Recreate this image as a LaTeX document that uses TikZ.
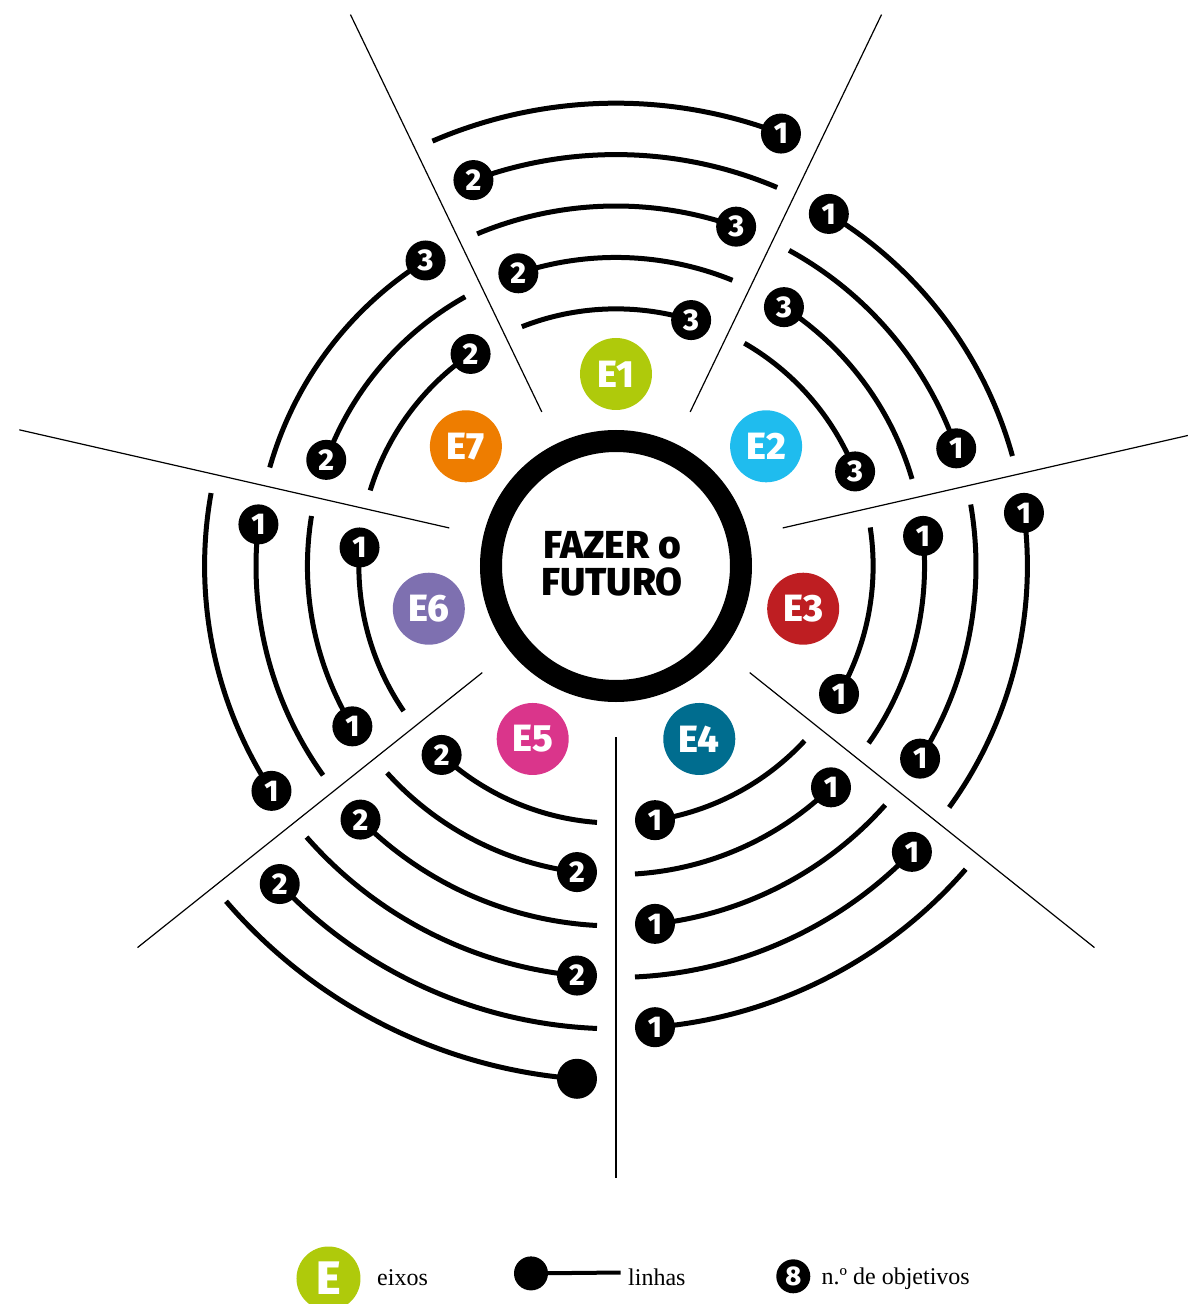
\documentclass[tikz,border=0pt]{standalone}
\usepackage{fontspec}
\newfontfamily\eixofont{Fira Sans}[BoldFont={Fira Sans ExtraBold}]
\newfontfamily\legendafont{Liberation Serif}

\definecolor{eixoa}{HTML}{AFCA0B}
\definecolor{eixob}{HTML}{1FBCEE}
\definecolor{eixoc}{HTML}{BE1E22}
\definecolor{eixod}{HTML}{006D8F}
\definecolor{eixoe}{HTML}{DA358B}
\definecolor{eixof}{HTML}{7E70B0}
\definecolor{eixog}{HTML}{EE7D00}

\tikzset{
    numdot/.style={circle,fill=black,inner sep=0pt,minimum size=40pt,text=white,
        font=\eixofont\bfseries\fontsize{30}{30}\selectfont},
    eixo/.style={circle,inner sep=0pt,minimum size=72pt,text=white,
        font=\eixofont\bfseries\fontsize{38}{38}\selectfont},
    linha/.style={line width=5pt},
    divisor/.style={line width=1.2pt},
    legenda/.style={anchor=base west,inner sep=0pt,
        font=\legendafont\fontsize{24}{24}\selectfont}
}

\begin{document}
\begin{tikzpicture}[x=1pt,y=1pt]
    \useasboundingbox (-616,-738) rectangle (572,566);
    \clip (-616,-738) rectangle (572,566);

    % central ring
    \draw[line width=22pt] (0,0) circle[radius=125];
    \node[align=center,inner sep=0pt,font=\eixofont\bfseries\fontsize{39}{37}\selectfont]
        (centro) at (-4,2) {FAZER o\\FUTURO};

    \pgfmathsetmacro{\meio}{180/7}
    \foreach \s/\cor/\labs in {1/eixoa/{3,2,3,2,1}, 2/eixob/{3,3,1,1}, 3/eixoc/{1,1,1,1},
            4/eixod/{1,1,1,1,1}, 5/eixoe/{2,2,2,2,2,{}}, 6/eixof/{1,1,1,1}, 7/eixog/{2,2,3}} {
        \pgfmathsetmacro{\ang}{90-(\s-1)*360/7}
        \pgfmathsetmacro{\dang}{\ang+\meio}

        % divider
        \draw[divisor] (\dang:171) -- (\dang:612);

        % axis disc
        \node[eixo,fill=\cor] (e\s) at (\ang:192) {E\s};

        % lines with their dots
        \foreach \lab [count=\nl] in \labs {
            \pgfmathtruncatemacro{\kk}{\nl+4}
            \pgfmathsetmacro{\rad}{\kk*360/7}
            \pgfmathsetmacro{\sg}{mod(\kk,2)==1 ? -1 : 1}
            \pgfmathsetmacro{\ad}{\ang+\sg*(\meio-asin(39/\rad))}
            \pgfmathsetmacro{\ab}{\ang-\sg*(\meio-asin(19/\rad))}
            \draw[linha] (\ab:\rad) arc[start angle=\ab,end angle=\ad,radius=\rad];
            \node[numdot] (d\s-\kk) at (\ad:\rad) {\lab};
        }
    }

    % legend
    \node[circle,fill=eixoa,inner sep=0pt,minimum size=64pt,text=white,
        font=\eixofont\bfseries\fontsize{47}{47}\selectfont] (legE) at (-287.5,-712.5) {E};
    \node[legenda] (legEtxt) at (-239,-719) {eixos};
    \node[circle,fill=black,inner sep=0pt,minimum size=34pt] (legdot) at (-85,-707.4) {};
    \coordinate (legfim) at (4.7,-706.5);
    \draw[line width=4pt] (legdot) -- (legfim);
    \node[legenda] (legLtxt) at (12,-719) {linhas};
    \node[numdot,minimum size=34pt,font=\eixofont\bfseries\fontsize{27}{27}\selectfont]
        (leg8) at (177.3,-710.3) {8};
    \node[legenda] (legNtxt) at (205.5,-718) {n.º de objetivos};
\end{tikzpicture}
\end{document}
